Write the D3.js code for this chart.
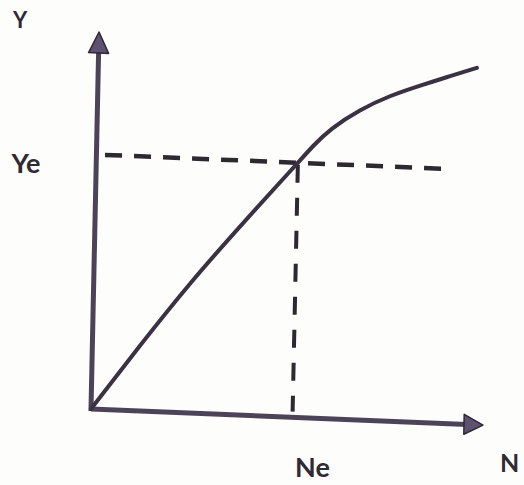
<!DOCTYPE html>
<html>
<head>
<meta charset="utf-8">
<script src="https://cdn.jsdelivr.net/npm/d3@7"></script>
<style>
  html, body { margin: 0; padding: 0; background: #fdfdfb; }
  svg { display: block; }
  .lbl { font-family: Lato, "Open Sans", sans-serif; font-weight: bold; fill: #2f2a35; }
</style>
</head>
<body>
<div id="chart"></div>
<script>
// production curve Y(N) (arbitrary units 0..100)
const curveN = [0, 12, 24.5, 38, 51.4, 55.2, 59.4, 66.9, 74.5, 82.1, 88.9, 96.5];
const curveY = [0, 17.2, 34.5, 51.3, 67.5, 72.2, 76.8, 82.3, 86.3, 89.3, 91.8, 94.6];

// equilibrium point
const eqN = 51.4;
const eqY = 67.5;
const hDashFrom = 2.2;
const hDashTo = 89.5;

// axis labels
const axisLabels = ["Y", "N"];
const eqLabels = ["Ye", "Ne"];

const W = 524, H = 485;
const origin = { x: 91, y: 409 };
// the scan is slightly skewed
const skewB = 0.041, skewC = -0.0213;

const svg = d3.select("#chart").append("svg")
    .attr("width", W)
    .attr("height", H);

const xScale = d3.scaleLinear().domain([0, 100]).range([0, 392]);
const yScale = d3.scaleLinear().domain([0, 100]).range([0, -377]);

// local -> page coords
const toPage = (lx, ly) => [lx + skewC * ly + origin.x, skewB * lx + ly + origin.y];

const g = svg.append("g")
    .attr("transform", `matrix(1,${skewB},${skewC},1,${origin.x},${origin.y})`);

const ink = "#3a3242";
const axisInk = "#4d4359";

// axes
const xEnd = xScale(100), yEnd = yScale(100);
g.append("line")
    .attr("x1", 0).attr("y1", 0)
    .attr("x2", xEnd - 16).attr("y2", 0)
    .attr("stroke", axisInk).attr("stroke-width", 5);
g.append("line")
    .attr("x1", 0).attr("y1", 2)
    .attr("x2", 0).attr("y2", yEnd + 18)
    .attr("stroke", axisInk).attr("stroke-width", 5);

// arrow heads
g.append("path")
    .attr("d", `M${xEnd},0 L${xEnd - 19},-10 L${xEnd - 19},10 Z`)
    .attr("fill", "#5e5270").attr("stroke", "#2e2836").attr("stroke-width", 1.5)
    .attr("stroke-linejoin", "round");
g.append("path")
    .attr("d", `M0,${yEnd} L-10,${yEnd + 21} L10,${yEnd + 21} Z`)
    .attr("fill", "#5e5270").attr("stroke", "#2e2836").attr("stroke-width", 1.5)
    .attr("stroke-linejoin", "round");

// dashed guides
g.append("line")
    .attr("x1", xScale(hDashFrom)).attr("y1", yScale(eqY))
    .attr("x2", xScale(hDashTo)).attr("y2", yScale(eqY))
    .attr("stroke", "#2c2930").attr("stroke-width", 4.5)
    .attr("stroke-dasharray", "17,12");
g.append("line")
    .attr("x1", xScale(eqN)).attr("y1", yScale(eqY) + 2)
    .attr("x2", xScale(eqN)).attr("y2", yScale(1.5))
    .attr("stroke", "#2c2930").attr("stroke-width", 4)
    .attr("stroke-dasharray", "18,15");

// curve
const pts = curveN.map((n, i) => [n, curveY[i]]);
const line = d3.line()
    .x(d => xScale(d[0]))
    .y(d => yScale(d[1]))
    .curve(d3.curveBasis);
g.append("path")
    .datum(pts)
    .attr("d", line)
    .attr("fill", "none")
    .attr("stroke", ink)
    .attr("stroke-width", 4)
    .attr("stroke-linecap", "round");

// labels (page coords, not skewed)
const yTip = toPage(0, yEnd);
svg.append("text").attr("class", "lbl")
    .attr("x", yTip[0] - 86).attr("y", yTip[1] - 4)
    .style("font-size", "22px")
    .text(axisLabels[0]);

const xTip = toPage(xEnd, 0);
svg.append("text").attr("class", "lbl")
    .attr("x", xTip[0] + 17).attr("y", xTip[1] + 47)
    .style("font-size", "25px")
    .text(axisLabels[1]);

const yeAt = toPage(0, yScale(eqY));
svg.append("text").attr("class", "lbl")
    .attr("x", yeAt[0] - 56).attr("y", yeAt[1] + 18)
    .attr("text-anchor", "end")
    .style("font-size", "27px")
    .text(eqLabels[0]);

const neAt = toPage(xScale(eqN), 0);
svg.append("text").attr("class", "lbl")
    .attr("x", neAt[0] + 20).attr("y", neAt[1] + 60)
    .attr("text-anchor", "middle")
    .style("font-size", "27px")
    .text(eqLabels[1]);
</script>
</body>
</html>
